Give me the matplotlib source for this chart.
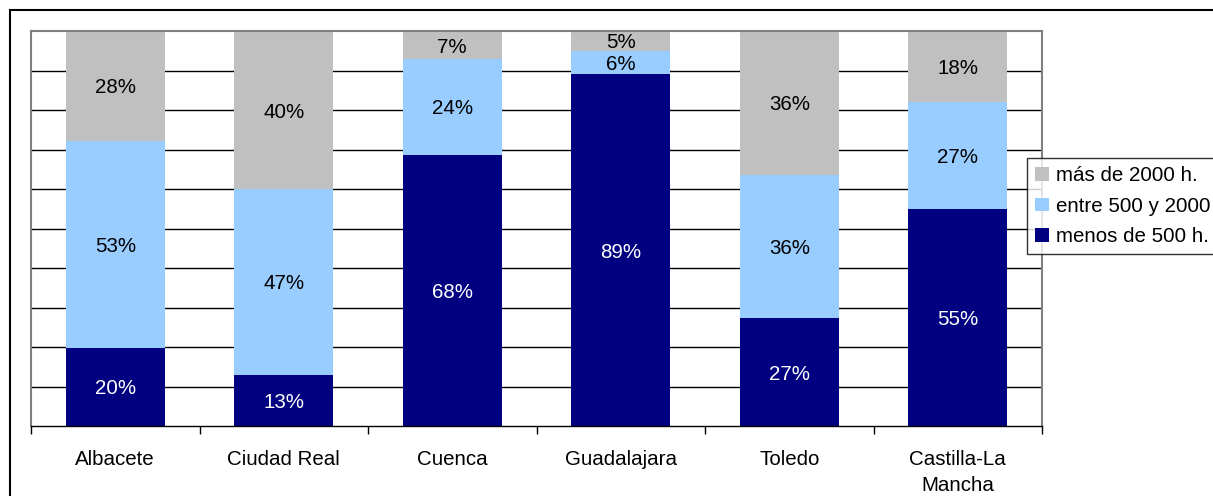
import matplotlib.pyplot as plt
import numpy as np
from matplotlib.patches import Rectangle

plt.rcParams['font.family'] = ['Liberation Sans', 'DejaVu Sans']

provincias = ['Albacete', 'Ciudad Real', 'Cuenca', 'Guadalajara', 'Toledo', 'Castilla-La\nMancha']
menos_500 = [20, 13, 68, 89, 27, 55]
entre_500_2000 = [53, 47, 24, 6, 36, 27]
mas_2000 = [28, 40, 7, 5, 36, 18]

series = [
    ('menos de 500 h.', menos_500, '#000080', 'white'),
    ('entre 500 y 2000', entre_500_2000, '#99CCFF', 'black'),
    ('más de 2000 h.', mas_2000, '#C0C0C0', 'black'),
]

W, H = 1213, 496
fig = plt.figure(figsize=(W / 100, H / 100), dpi=100)
ax = fig.add_axes([31 / W, (H - 426) / H, (1042 - 31) / W, (426 - 31) / H])

# marco exterior del grafico (cortado a la derecha y abajo)
fig.patches.append(Rectangle((10 / W, -0.1), 1.2, (H - 10) / H + 0.1, transform=fig.transFigure,
                             fill=False, edgecolor='black', linewidth=1.5))

fs = 14.8
x = np.arange(len(provincias))
totales = np.array(menos_500) + np.array(entre_500_2000) + np.array(mas_2000)
bottom = np.zeros(len(provincias))
handles = []
for nombre, vals, color, tcolor in series:
    alto = np.array(vals) / totales * 100
    b = ax.bar(x, alto, 0.59, bottom=bottom, color=color, label=nombre, zorder=2)
    handles.append(b)
    for xi, yb, h, v in zip(x, bottom, alto, vals):
        ax.annotate(f'{v}%', (xi, yb + h / 2), xytext=(0, -1.5), textcoords='offset points',
                    ha='center', va='center', color=tcolor, fontsize=fs, zorder=3)
    bottom += alto

ax.set_xlim(-0.5, len(provincias) - 0.5)
ax.set_ylim(0, 100)
ax.set_yticks(np.arange(10, 100, 10))
ax.yaxis.grid(True, color='black', linewidth=1)
ax.set_axisbelow(True)
ax.tick_params(axis='y', length=0, labelleft=False)

ax.set_xticks(x)
ax.set_xticklabels(provincias, fontsize=fs, linespacing=1.5)
ax.set_xticks(np.arange(-0.5, len(provincias), 1), minor=True)
ax.tick_params(axis='x', which='major', length=0, pad=17)
ax.tick_params(axis='x', which='minor', length=6, width=1, color='black', direction='out')

for s in ['left', 'right', 'top']:
    ax.spines[s].set_color('#808080')
    ax.spines[s].set_linewidth(1.5)
ax.spines['bottom'].set_color('black')
ax.spines['bottom'].set_linewidth(1)

leg = fig.legend(handles[::-1], [h.get_label() for h in handles[::-1]],
                 loc='upper left', bbox_to_anchor=(1027 / W, (H - 158) / H),
                 fontsize=fs, frameon=True, fancybox=False, borderaxespad=0,
                 handlelength=0.65, handleheight=0.65, handletextpad=0.35,
                 labelspacing=0.56, borderpad=0.4)
leg.get_frame().set_edgecolor('black')
leg.get_frame().set_linewidth(1)

fig.savefig('out.png', dpi=100)
